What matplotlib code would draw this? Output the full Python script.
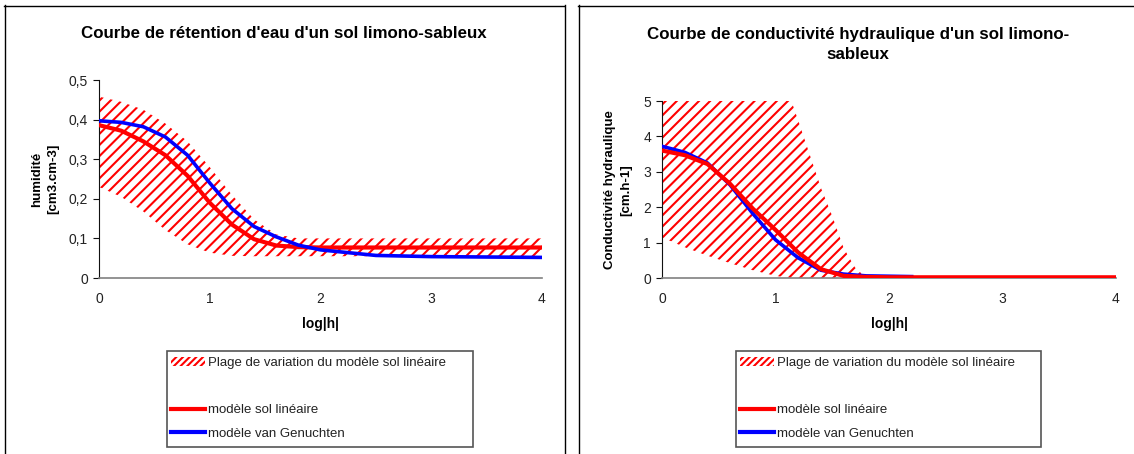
import matplotlib.pyplot as plt
from matplotlib.lines import Line2D
from matplotlib.patches import Patch, Rectangle

plt.rcParams['font.family'] = ['Liberation Sans', 'DejaVu Sans']
plt.rcParams['hatch.linewidth'] = 1.5

# --- data ---
# water retention curve
x_ret = [0, 0.2, 0.4, 0.6, 0.8, 1.0, 1.2, 1.4, 1.6, 1.8, 2.0, 2.5, 3.0, 3.5, 4.0]
ret_lin = [0.386, 0.372, 0.345, 0.310, 0.258, 0.190, 0.135, 0.098, 0.082, 0.078,
           0.077, 0.077, 0.077, 0.077, 0.077]
ret_vg = [0.397, 0.393, 0.382, 0.356, 0.310, 0.240, 0.175, 0.130, 0.104, 0.083,
          0.071, 0.057, 0.054, 0.053, 0.052]
ret_hi = [0.458, 0.445, 0.425, 0.390, 0.345, 0.280, 0.210, 0.148, 0.110, 0.100,
          0.100, 0.100, 0.100, 0.100, 0.100]
ret_lo = [0.230, 0.205, 0.168, 0.121, 0.085, 0.064, 0.056, 0.055, 0.055, 0.055,
          0.055, 0.055, 0.055, 0.055, 0.055]

# hydraulic conductivity curve
x_cond = [0, 0.2, 0.4, 0.6, 0.8, 1.0, 1.2, 1.4, 1.6, 1.8, 2.0, 2.5, 3.0, 3.5, 4.0]
cond_lin = [3.60, 3.47, 3.22, 2.66, 1.96, 1.36, 0.72, 0.25, 0.06, 0.03, 0.02,
            0.02, 0.02, 0.02, 0.02]
x_cond_vg = [0, 0.2, 0.4, 0.6, 0.8, 1.0, 1.2, 1.4, 1.6, 1.8, 2.0, 2.2]
cond_vg = [3.72, 3.55, 3.25, 2.63, 1.82, 1.08, 0.57, 0.22, 0.11, 0.06, 0.05, 0.04]
x_band = [0, 0.2, 0.4, 0.6, 0.8, 1.0, 1.14, 1.2, 1.3, 1.4, 1.5, 1.6, 1.7, 1.8]
cond_hi = [5, 5, 5, 5, 5, 5, 5, 4.45, 3.5, 2.55, 1.75, 0.85, 0.3, 0.0]
cond_lo = [1.15, 0.87, 0.63, 0.42, 0.22, 0.06, 0.0, 0, 0, 0, 0, 0, 0, 0]

xticks = [0, 1, 2, 3, 4]
ret_yticks = [0, 0.1, 0.2, 0.3, 0.4, 0.5]
ret_ylabels = ['0', '0,1', '0,2', '0,3', '0,4', '0,5']
cond_yticks = [0, 1, 2, 3, 4, 5]
cond_ylabels = ['0', '1', '2', '3', '4', '5']

lab_band = 'Plage de variation du modèle sol linéaire'
lab_lin = 'modèle sol linéaire'
lab_vg = 'modèle van Genuchten'

W, H = 1134, 454
fig = plt.figure(figsize=(W / 100, H / 100), dpi=100)


def fx(px):
    return px / W


def fy(py):
    return 1 - py / H


txt = '#222222'


def style_axes(ax, yticks, ylabels):
    ax.set_xlim(0, 4)
    ax.set_xticks(xticks)
    ax.set_xticklabels([str(t) for t in xticks])
    ax.set_yticks(yticks)
    ax.set_yticklabels(ylabels)
    ax.set_ylim(yticks[0], yticks[-1])
    ax.spines['top'].set_visible(False)
    ax.spines['right'].set_visible(False)
    ax.spines['left'].set_color('#111111')
    ax.spines['bottom'].set_color('#808080')
    ax.spines['bottom'].set_linewidth(1.2)
    ax.tick_params(axis='x', length=0, pad=10, labelsize=10, labelcolor=txt)
    ax.tick_params(axis='y', length=4, width=0.8, pad=4, labelsize=10,
                   labelcolor=txt, color='#111111')
    ax.set_xlabel('log|h|', fontsize=10, fontweight='bold', labelpad=8)


# left panel
ax1 = fig.add_axes([fx(99), fy(278), fx(542) - fx(99), fy(80) - fy(278)])
ax1.fill_between(x_ret, ret_lo, ret_hi, facecolor='none', edgecolor='red',
                 hatch='///', linewidth=0)
ax1.plot(x_ret, ret_lin, color='red', lw=3.0, zorder=3)
ax1.plot(x_ret, ret_vg, color='blue', lw=2.6, zorder=4)
style_axes(ax1, ret_yticks, ret_ylabels)

# right panel
ax2 = fig.add_axes([fx(662), fy(278), fx(1116) - fx(662), fy(101) - fy(278)])
ax2.fill_between(x_band, cond_lo, cond_hi, facecolor='none', edgecolor='red',
                 hatch='///', linewidth=0)
ax2.plot(x_cond_vg, cond_vg, color='blue', lw=2.6, zorder=3)
ax2.plot(x_cond, cond_lin, color='red', lw=3.0, zorder=4)
style_axes(ax2, cond_yticks, cond_ylabels)

# titles and y labels
fig.text(fx(284), fy(33), "Courbe de rétention d'eau d'un sol limono-sableux",
         ha='center', va='center', fontsize=12.2, fontweight='bold')
fig.text(fx(858), fy(44.5), "Courbe de conductivité hydraulique d'un sol limono-\nsableux",
         ha='center', va='center', fontsize=12.2, fontweight='bold', linespacing=1.45)
fig.text(fx(45), fy(179), 'humidité\n[cm3.cm-3]', rotation=90, ha='center',
         va='center', fontsize=9.5, fontweight='bold', linespacing=1.5)
fig.text(fx(618), fy(190), 'Conductivité hydraulique\n[cm.h-1]', rotation=90,
         ha='center', va='center', fontsize=9.5, fontweight='bold', linespacing=1.5)

# panel borders
for (x0, x1) in [(4, 564), (578, 1134)]:
    fig.add_artist(Line2D([fx(x0), fx(x1)], [fy(5.5), fy(5.5)], color='black', lw=1))
fig.add_artist(Line2D([fx(4.5), fx(4.5)], [fy(5), 0], color='black', lw=1))
fig.add_artist(Line2D([fx(564.5), fx(564.5)], [fy(5), 0], color='black', lw=1))
fig.add_artist(Line2D([fx(578.5), fx(578.5)], [fy(5), 0], color='black', lw=1))

# legends
handles = [Patch(facecolor='none', edgecolor='red', hatch='/////', linewidth=0),
           Line2D([], [], color='none'),
           Line2D([], [], color='red', lw=3.0),
           Line2D([], [], color='blue', lw=3.0)]
labels = [lab_band, ' ', lab_lin, lab_vg]
for (l, r) in [(167, 473), (736, 1041)]:
    fig.add_artist(Rectangle((fx(l), fy(447)), fx(r) - fx(l), fy(351) - fy(447),
                             transform=fig.transFigure, facecolor='white',
                             edgecolor='#555555', lw=1.2))
    fig.legend(handles, labels, loc='upper left',
               bbox_to_anchor=(fx(l), fy(353)), bbox_transform=fig.transFigure,
               frameon=False, fontsize=9.5, handlelength=2.6, handletextpad=0.2,
               borderpad=0.3, borderaxespad=0, labelspacing=0.86,
               labelcolor=txt)

fig.savefig('out.png', dpi=100)
